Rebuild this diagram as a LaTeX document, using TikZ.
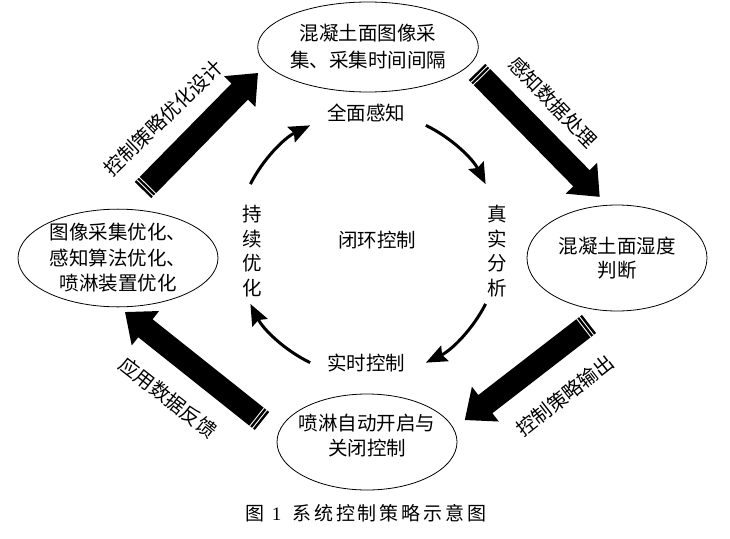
\documentclass[tikz,border=0pt]{standalone}
\usepackage{fontspec}
\setmainfont{Liberation Serif}
\newfontfamily\cjk{Noto Sans CJK SC}
\newfontfamily\cjkcap[LetterSpace=15]{Noto Sans CJK SC}
\usetikzlibrary{shapes.geometric,arrows.meta,calc}
\tikzset{
  pics/bigarrow/.style={code={
    \fill[black] (0,-11.5) -- ({#1-26},-11.5) -- ({#1-26},-22) -- (#1,0) -- ({#1-26},22) -- ({#1-26},11.5) -- (0,11.5) -- cycle;
    \draw[white, line width=0.9pt] (3,-12) -- (3,12) (6.5,-12) -- (6.5,12);
  }},
  ell/.style={draw, ellipse, line width=0.8pt, inner sep=0pt, align=center},
  cjktext/.style={font=\cjk\fontsize{19.5}{25}\selectfont},
  txt/.style={cjktext, inner sep=0pt, align=center},
  cyc/.style={line width=3pt, -{Stealth[length=21pt,width=17pt,inset=3pt]}},
}
\begin{document}
\begin{tikzpicture}[x=1pt,y=-1pt]
\fill[white] (0,0) rectangle (730,538);
\useasboundingbox (0,0) rectangle (730,538);

% ellipses
\node[ell, cjktext, font=\cjk\fontsize{19.5}{27}\selectfont, minimum width=200pt, minimum height=90pt] (top) at (368,47) {混凝土面图像采\\集、采集时间间隔};
\node[ell, cjktext, font=\cjk\fontsize{19.5}{24}\selectfont, minimum width=180pt, minimum height=106pt] (right) at (617,258) {混凝土面湿度\\判断};
\node[ell, cjktext, font=\cjk\fontsize{19.5}{25.5}\selectfont, minimum width=200pt, minimum height=90pt] (left) at (118,258) {图像采集优化、\\感知算法优化、\\喷淋装置优化};
\node[ell, minimum width=180pt, minimum height=96pt] (bot) at (367,442) {};
\node[txt] (bottext) at (367,436) {喷淋自动开启与\\关闭控制};

% big arrows
\coordinate (tltail) at (143,190);
\coordinate (trtail) at (477,72);
\coordinate (brtail) at (589,324);
\coordinate (bltail) at (262,421);
\pic[rotate=45.5] at (tltail) {bigarrow=164};
\pic[rotate=-45.5] at (trtail) {bigarrow=175};
\pic[rotate=-142.3] at (brtail) {bigarrow=157};
\pic[rotate=141.5] at (bltail) {bigarrow=175};

% arrow labels
\node[txt, rotate=44] (ltl) at (163,118) {控制策略优化设计};
\node[txt, rotate=-46] (ltr) at (553,102) {感知数据处理};
\node[txt, rotate=38] (lbr) at (565,396) {控制策略输出};
\node[txt, rotate=-38] (lbl) at (168,398) {应用数据反馈};

% inner cycle
\coordinate (c) at (368,244);
\draw[cyc] ([shift={(-64:132)}]c) arc[start angle=-64, end angle=-27, radius=132];
\draw[cyc] ([shift={(27:132)}]c) arc[start angle=27, end angle=64, radius=132];
\draw[cyc] ([shift={(-244:132)}]c) arc[start angle=-244, end angle=-207, radius=132];
\draw[cyc] ([shift={(-153:132)}]c) arc[start angle=-153, end angle=-116, radius=132];

\node[txt] (qm) at (366,113) {全面感知};
\node[txt] (ss) at (366,363) {实时控制};
\node[txt, font=\cjk\fontsize{19.5}{24.5}\selectfont] (zs) at (497,251) {真\\实\\分\\析};
\node[txt, font=\cjk\fontsize{19.5}{24.5}\selectfont] (cx) at (252,251) {持\\续\\优\\化};
\node[txt] (bh) at (377,240) {闭环控制};

% caption
\node[inner sep=0pt, font=\fontsize{19}{21}\selectfont] (cap) at (366,513) {{\cjk 图}\hspace{7pt}{\rmfamily 1}\hspace{11pt}{\cjkcap 系统控制策略示意图}};
\end{tikzpicture}
\end{document}
